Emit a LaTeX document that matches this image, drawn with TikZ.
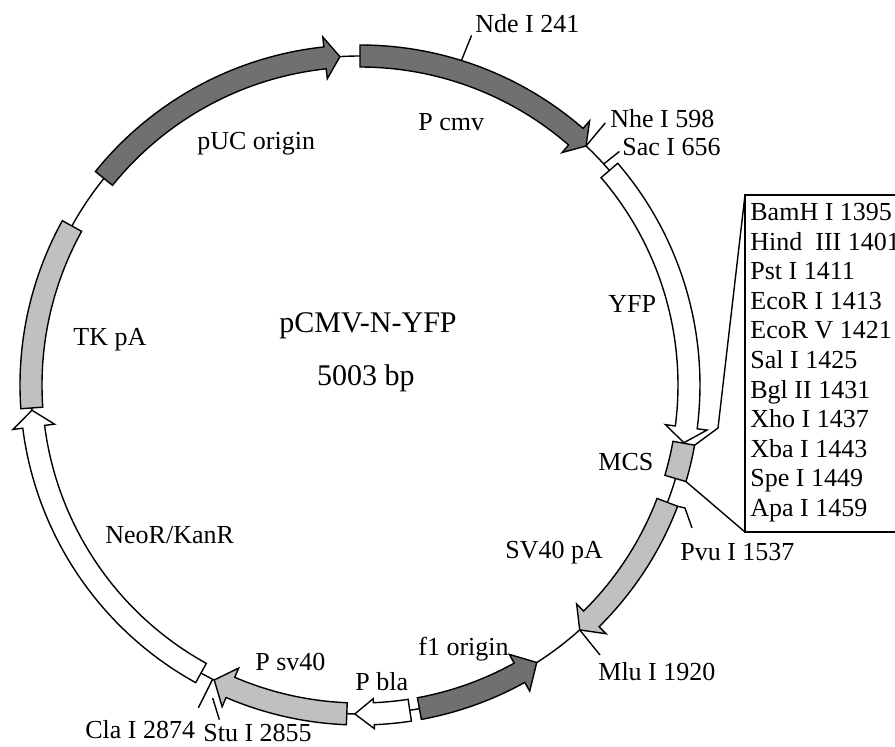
\documentclass[tikz,border=0pt]{standalone}
\usepackage{fontspec}
\setmainfont{Liberation Serif}
\definecolor{featdark}{RGB}{112,112,112}
\definecolor{featlight}{RGB}{192,192,192}
\def\rmid{329}
\def\rin{318}
\def\rout{340}
% band on the circle from angle #1 to #2
\newcommand{\featbox}[3]{%
  \filldraw[feat, fill=#3] (#1:\rout) arc[start angle=#1, end angle=#2, radius=\rout]
    -- (#2:\rin) arc[start angle=#2, end angle=#1, radius=\rin] -- cycle;}
% band with a head: start, head base, tip, fill, head half width
\newcommand{\featarrow}[5]{%
  \filldraw[feat, fill=#4] (#1:\rout) arc[start angle=#1, end angle=#2, radius=\rout]
    -- ({#2}:{\rmid+#5}) -- (#3:\rmid) -- ({#2}:{\rmid-#5})
    -- (#2:\rin) arc[start angle=#2, end angle=#1, radius=\rin] -- cycle;}

\begin{document}
\begin{tikzpicture}[x=0.5pt,y=0.5pt,
    feat/.style={draw=black, line width=0.7pt},
    backbone/.style={draw=black, line width=0.7pt},
    tick/.style={draw=black, line width=0.7pt},
    site/.style={font=\fontsize{13}{15}\selectfont, inner sep=0pt},
    title/.style={font=\fontsize{15}{18}\selectfont, inner sep=0pt}]
  \useasboundingbox (-360,-361) rectangle (535,385);

  \draw[backbone] (0,0) circle[radius=\rmid];

  % cut sites
  \coordinate (nde1) at (72.8:\rmid);   \coordinate (nde2) at (72.3:367);
  \coordinate (nhe1) at (46.6:\rmid);   \coordinate (nhe2) at (46.9:359);
  \coordinate (sac1) at (42.2:\rmid);   \coordinate (sac2) at (42.0:349);
  \coordinate (pvu1) at (-20.9:\rout);  \coordinate (pvu2) at (325,-123);
  \coordinate (pvu3) at (332,-143);
  \coordinate (mlu1) at (-48.1:\rmid);  \coordinate (mlu2) at (240,-270);
  \coordinate (cla1) at (-116.6:\rmid); \coordinate (cla2) at (-116.6:361);
  \coordinate (stu1) at (-115.2:346);   \coordinate (stu2) at (-112.8:363);
  \draw[tick] (nde1) -- (nde2);
  \draw[tick] (nhe1) -- (nhe2);
  \draw[tick] (sac1) -- (sac2);
  \draw[tick] (pvu1) -- (pvu2) -- (pvu3);
  \draw[tick] (mlu1) -- (mlu2);
  \draw[tick] (cla1) -- (cla2);

  % features
  \featbox{151.1}{184}{featlight}
  \featarrow{141.1}{96.1}{93.5}{featdark}{21}
  \featarrow{90}{49}{46.6}{featdark}{21}
  \featarrow{40.7}{-7.4}{-10.1}{white}{21}
  \featbox{-10.2}{-16.5}{featlight}
  \featarrow{-20.9}{-45.3}{-48.1}{featlight}{21}
  \featarrow{-79.6}{-61}{-57.5}{featdark}{21}
  \featarrow{-81.3}{-87.6}{-90.9}{white}{15}
  \featarrow{-92.3}{-113.2}{-116.3}{featlight}{21}
  \featarrow{-118.9}{-172.7}{-175.6}{white}{21}
  \draw[tick] (stu1) -- (stu2);

  % MCS callout
  \coordinate (mcsA) at (-10.2:\rout);
  \coordinate (mcsB) at (-16.5:\rout);
  \coordinate (bend) at (358,-43);
  \coordinate (boxtl) at (385,190);
  \coordinate (boxbl) at (385,-147);
  \coordinate (boxbr) at (545,-147);
  \draw[tick] (mcsA) -- (bend) -- (boxtl);
  \draw[tick] (mcsB) -- (boxbl);
  \draw[tick] (boxtl) rectangle (boxbr);
  \foreach \s [count=\i from 0] in {BamH I 1395, Hind\ \ III 1401, Pst I 1411,
      EcoR I 1413, EcoR V 1421, Sal I 1425, Bgl II 1431, Xho I 1437,
      Xba I 1443, Spe I 1449, Apa I 1459}
    \node[site, anchor=base west] (site\i) at (390,{164.5-29.6*\i}) {\s};

  % labels
  \node[title, anchor=base] (name) at (8,53) {pCMV-N-YFP};
  \node[title, anchor=base] (size) at (6,0) {5003 bp};
  \node[site, anchor=base west] (ndelbl) at (115,353) {Nde I 241};
  \node[site, anchor=base west] (nhelbl) at (250,258) {Nhe I 598};
  \node[site, anchor=base west] (saclbl) at (262,230) {Sac I 656};
  \node[site, anchor=base west] (pvulbl) at (320,-175) {Pvu I 1537};
  \node[site, anchor=base west] (mlulbl) at (238,-295) {Mlu I 1920};
  \node[site, anchor=base west] (clalbl) at (-275,-353) {Cla I 2874};
  \node[site, anchor=base west] (stulbl) at (-157,-356) {Stu I 2855};
  \node[site, anchor=base west] (puc) at (-163,236) {pUC origin};
  \node[site, anchor=base west] (pcmv) at (58,255) {P cmv};
  \node[site, anchor=base west] (yfp) at (248,73) {YFP};
  \node[site, anchor=base west] (mcs) at (238,-85) {MCS};
  \node[site, anchor=base west] (sv40pa) at (145,-173) {SV40 pA};
  \node[site, anchor=base west] (f1) at (58,-270) {f1 origin};
  \node[site, anchor=base west] (pbla) at (-5,-305) {P bla};
  \node[site, anchor=base west] (psv40) at (-105,-285) {P sv40};
  \node[site, anchor=base west] (neo) at (-255,-158) {NeoR/KanR};
  \node[site, anchor=base west] (tkpa) at (-287,40) {TK pA};
\end{tikzpicture}
\end{document}
